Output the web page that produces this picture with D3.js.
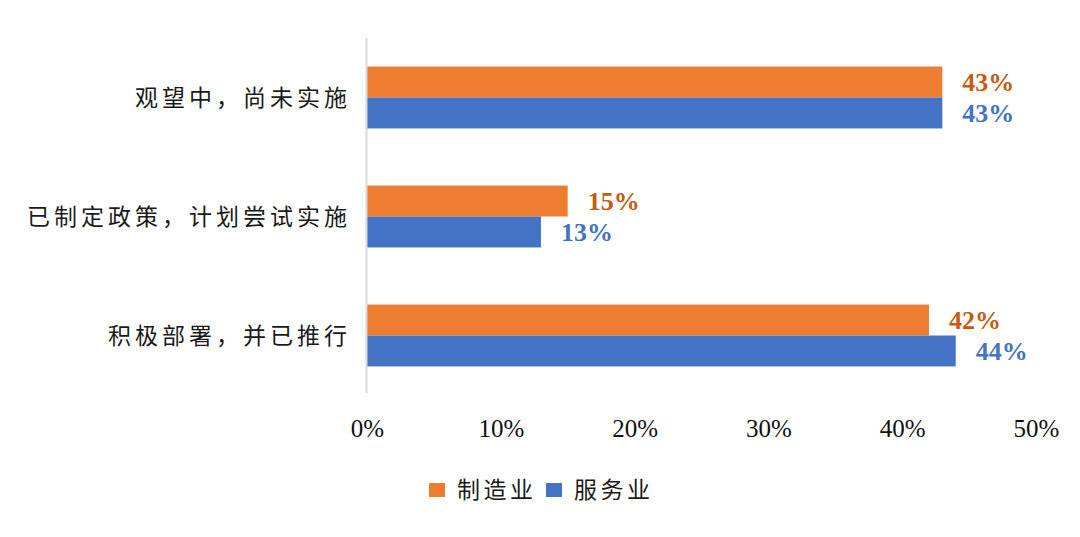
<!DOCTYPE html>
<html>
<head>
<meta charset="utf-8">
<script src="https://cdn.jsdelivr.net/npm/d3@7"></script>
<style>
html,body{margin:0;padding:0;background:#fff;}
svg{display:block;}
</style>
</head>
<body>
<svg id="chart" width="1080" height="537"></svg>
<script>
const categories = ["观望中，尚未实施", "已制定政策，计划尝试实施", "积极部署，并已推行"];
const seriesNames = ["制造业", "服务业"];
const manufacturing = [0.43, 0.15, 0.42];
const services = [0.43, 0.13, 0.44];
const tickValues = [0, 0.1, 0.2, 0.3, 0.4, 0.5];

const barColors = ["#ED7D31", "#4472C4"];
const labelColors = ["#C55A11", "#4472C4"];

const svg = d3.select("#chart");
const W = 1080;
const plotLeft = 367, plotRight = 1036, plotTop = 38, plotBottom = 395, axisBottom = 393;

const x = d3.scaleLinear().domain([0, 0.5]).range([plotLeft, plotRight]);
const y = d3.scaleBand().domain(categories).range([plotTop, plotBottom]).paddingInner(0.48).paddingOuter(0.24);
const y1 = d3.scaleBand().domain(seriesNames).range([0, y.bandwidth()]);

const data = categories.map((c, i) => ({cat: c, vals: [manufacturing[i], services[i]]}));

const g = svg.append("g");
const groups = g.selectAll("g.cat").data(data).join("g")
  .attr("transform", d => `translate(0,${y(d.cat)})`);

groups.selectAll("rect").data(d => d.vals.map((v, k) => ({v, k})))
  .join("rect")
  .attr("x", x(0))
  .attr("y", d => y1(seriesNames[d.k]))
  .attr("width", d => x(d.v) - x(0))
  .attr("height", y1.bandwidth())
  .attr("fill", d => barColors[d.k]);

groups.selectAll("text.val").data(d => d.vals.map((v, k) => ({v, k})))
  .join("text")
  .attr("class", "val")
  .attr("x", d => x(d.v) + 20)
  .attr("y", d => y1(seriesNames[d.k]) + y1.bandwidth() / 2 + 9)
  .attr("fill", d => labelColors[d.k])
  .style("font-family", "'Liberation Serif', 'Times New Roman', serif")
  .style("font-weight", "bold")
  .style("font-size", "26px")
  .text(d => d3.format(".0%")(d.v));

// vertical axis line
g.append("line")
  .attr("x1", x(0) - 0.5).attr("x2", x(0) - 0.5)
  .attr("y1", plotTop).attr("y2", axisBottom)
  .attr("stroke", "#D9D9D9").attr("stroke-width", 2);

// category labels
groups.append("text")
  .attr("x", x(0) - 16)
  .attr("y", y.bandwidth() / 2)
  .attr("dy", "0.35em")
  .attr("text-anchor", "end")
  .style("font-family", "'Noto Sans CJK SC', sans-serif")
  .style("font-size", "23px")
  .style("letter-spacing", "4px")
  .attr("fill", "#1a1a1a")
  .text(d => d.cat);

// x axis tick labels
const xAxis = d3.axisBottom(x).tickValues(tickValues).tickFormat(d3.format(".0%")).tickSize(0).tickPadding(0);
const ax = svg.append("g").attr("transform", `translate(0,437)`).call(xAxis);
ax.select(".domain").remove();
ax.selectAll("text")
  .attr("dy", 0)
  .attr("y", 0)
  .attr("fill", "#111")
  .style("font-family", "'Liberation Serif', 'Times New Roman', serif")
  .style("font-size", "25px");

// legend
const legend = svg.append("g").attr("transform", "translate(429,483)");
const legendX = [0, 117];
seriesNames.forEach((s, k) => {
  const lg = legend.append("g").attr("transform", `translate(${legendX[k]},0)`);
  lg.append("rect").attr("width", 16).attr("height", 14).attr("fill", barColors[k]);
  lg.append("text").attr("x", 28).attr("y", 7).attr("dy", "0.35em")
    .style("font-family", "'Noto Sans CJK SC', sans-serif")
    .style("font-size", "23px")
    .style("letter-spacing", "3.5px")
    .attr("fill", "#1a1a1a")
    .text(s);
});
</script>
</body>
</html>
